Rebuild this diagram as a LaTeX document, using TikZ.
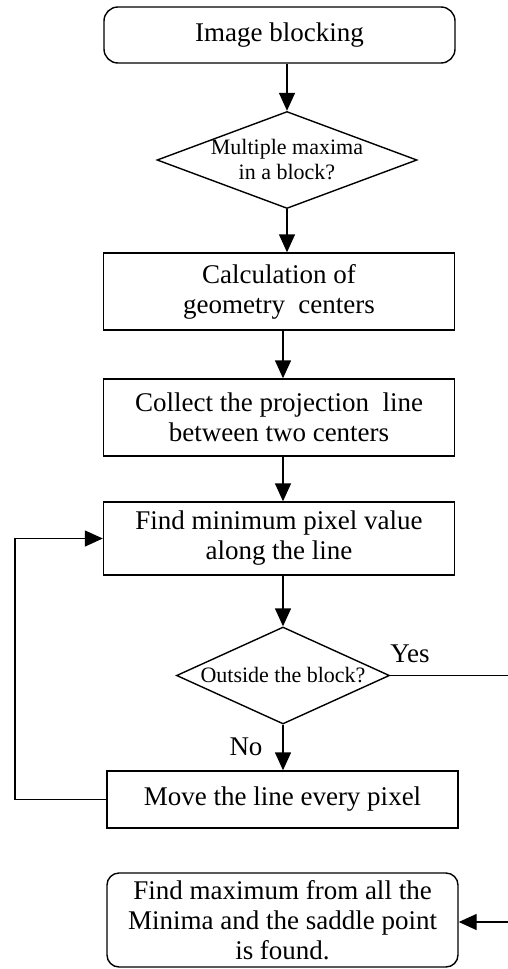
\documentclass[tikz,border=0pt]{standalone}
\usepackage{fontspec}
\setmainfont{Liberation Serif}
\usetikzlibrary{shapes.geometric, arrows.meta}

\begin{document}
\begin{tikzpicture}[x=1pt, y=-1pt, line width=1.4pt,
    arr/.style={-{Triangle[width=16pt,length=18pt]}},
    box/.style={draw, rectangle, inner sep=0pt, align=center, font=\fontsize{27}{30}\selectfont, minimum width=351pt},
    rbox/.style={box, rounded corners=14pt},
    dec/.style={draw, diamond, inner sep=-5pt, align=center, font=\fontsize{22}{25}\selectfont}]
        \useasboundingbox (0,0) rectangle (508,969);

        \node[rbox, minimum height=56pt] (start) at (279.5, 35) {Image blocking};
        \node[dec, minimum width=260pt, minimum height=97pt, shape aspect=2.68] (dec1) at (287, 160) {Multiple maxima\\in a block?};
        \node[box, minimum height=77pt] (calc) at (279, 291.5) {Calculation of\\geometry~ centers};
        \node[box, minimum height=77pt] (coll) at (279, 417.5) {Collect the projection~ line\\between two centers};
        \node[box, minimum height=73pt] (find) at (279, 538.5) {Find minimum pixel value\\along the line};
        \node[dec, minimum width=213pt, minimum height=97pt, shape aspect=2.2] (dec2) at (283, 675.5) {Outside the block?};
        \node[box, minimum height=57pt] (move) at (282.5, 799.5) {Move the line every pixel};
        \node[rbox, minimum height=94pt, rounded corners=12pt] (fin) at (282.5, 920) {Find maximum from all the\\Minima and the saddle point\\is found.};

        \node[font=\fontsize{27}{30}\selectfont] (yes) at (410, 654) {Yes};
        \node[font=\fontsize{27}{30}\selectfont] (no) at (246, 747) {No};

        \coordinate (loop) at (15, 799.5);
        \coordinate (yesend) at (508, 675.5);
        \coordinate (finend) at (508, 922);

        \draw[arr] (dec1.north |- start.south) -- (dec1.north);
        \draw[arr] (dec1.south) -- (dec1.south |- calc.north);
        \draw[arr] (dec2.north |- calc.south) -- (dec2.north |- coll.north);
        \draw[arr] (dec2.north |- coll.south) -- (dec2.north |- find.north);
        \draw[arr] (dec2.north |- find.south) -- (dec2.north);
        \draw[arr] (dec2.south) -- (dec2.south |- move.north);
        \draw[arr] (move.west) -- (loop) |- (find.west);
        \draw (dec2.east) -- (yesend);
        \draw[arr] (finend) -- (finend -| fin.east);
\end{tikzpicture}
\end{document}
